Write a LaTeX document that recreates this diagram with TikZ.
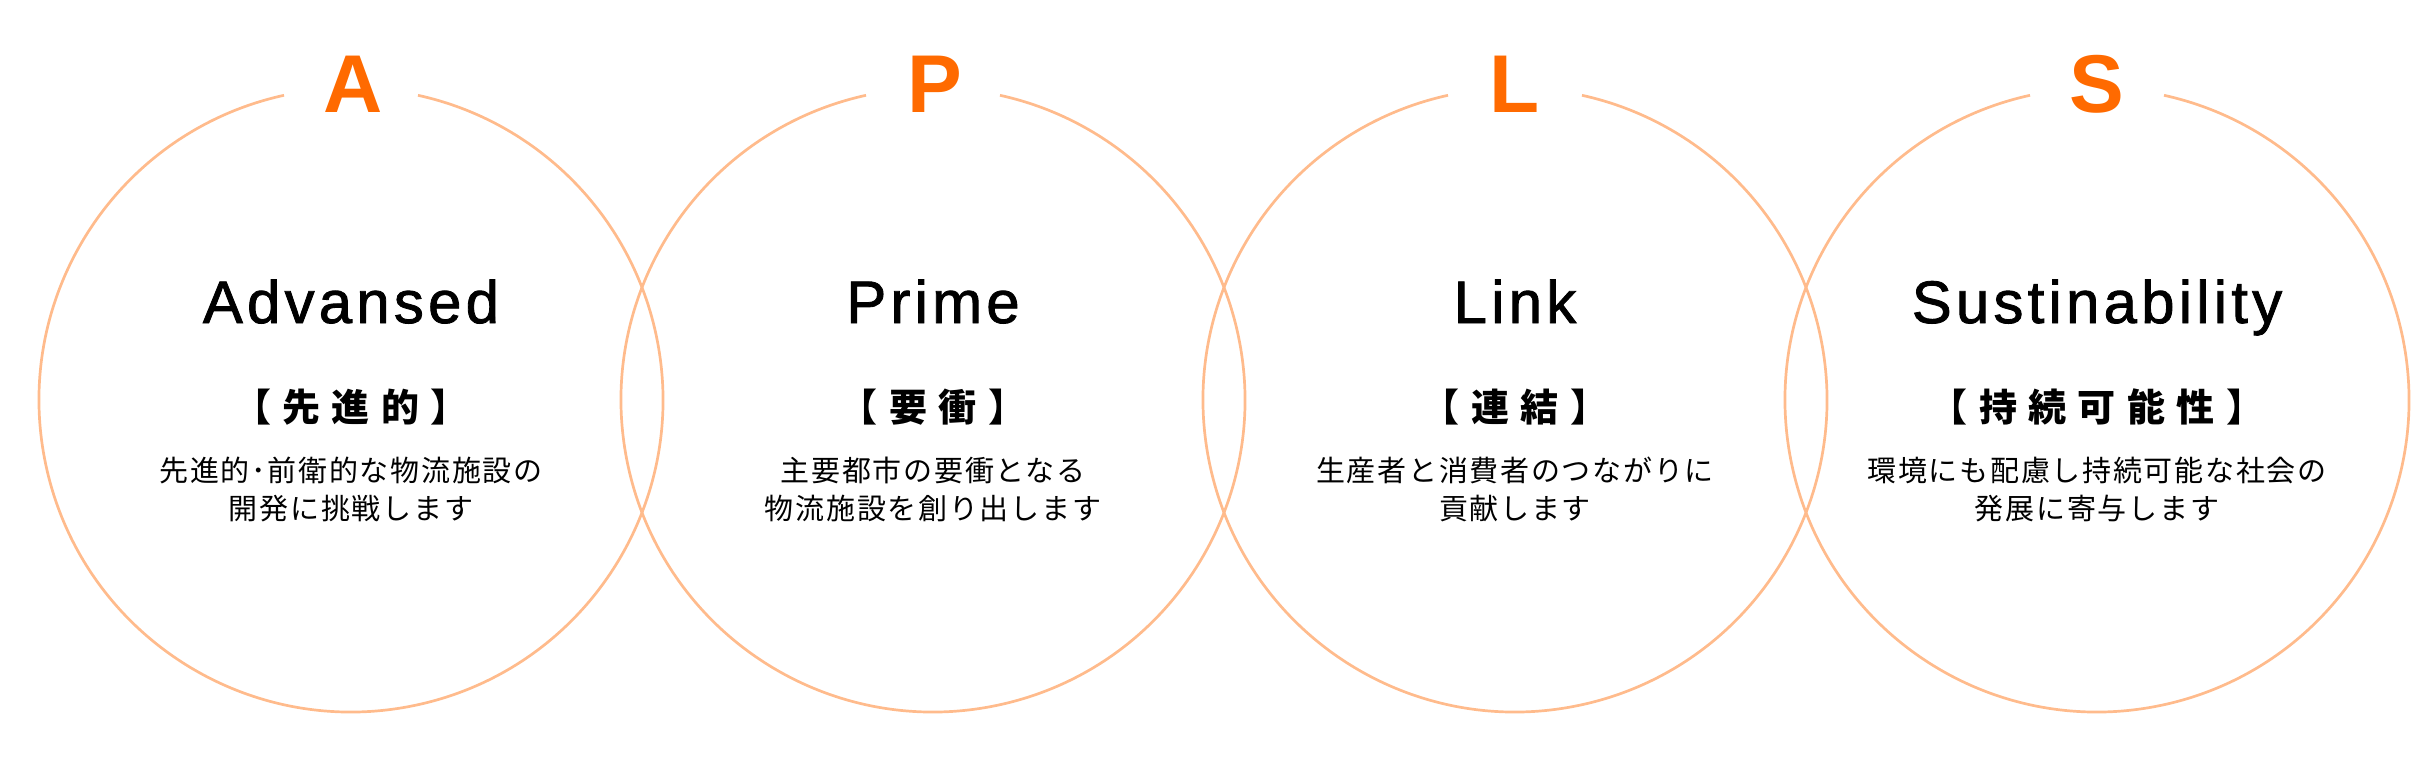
\documentclass[tikz,border=0pt]{standalone}
\usepackage{fontspec}
\setmainfont{Liberation Sans}
\newfontfamily\titlefont[LetterSpace=7,FakeBold=1.4]{Liberation Sans}
\newfontfamily\jpkw[LetterSpace=30]{Noto Sans CJK JP}
\newfontfamily\jpd[LetterSpace=6]{Noto Sans CJK JP}
\definecolor{ringc}{RGB}{255,187,140}
\definecolor{initc}{RGB}{255,106,0}
\tikzset{
  ring/.style={draw=ringc, line width=2.7pt},
  initial/.style={text=initc, font=\fontsize{82}{82}\selectfont\bfseries, anchor=base, inner sep=0pt},
  title/.style={font=\titlefont\fontsize{60}{60}\selectfont, anchor=base, inner sep=0pt},
  kw/.style={font=\jpkw\bfseries\fontsize{38}{38}\selectfont, anchor=base, inner sep=0pt},
  desc/.style={font=\jpd\fontsize{29}{29}\selectfont, anchor=base, inner sep=0pt},
}
\begin{document}
\begin{tikzpicture}[x=1pt,y=-1pt]
\useasboundingbox (0,0) rectangle (2434,760);
\foreach \cx/\nm in {351/a,933/p,1515/l,2097/s}{
  \coordinate (c\nm) at (\cx,400);
  \draw[ring] (c\nm) ++(102.4:312pt) arc[start angle=102.4, end angle=437.6, radius=312pt];
}
% initials
\node[initial] (ia) at (353,112) {A};
\node[initial] (ip) at (935,112) {P};
\node[initial] (il) at (1515,112) {L};
\node[initial] (is) at (2097,112) {S};
% titles
\node[title] (ta) at (351,323) {Advansed};
\node[title] (tp) at (933,323) {Prime};
\node[title] (tl) at (1515,323) {Link};
\node[title] (ts) at (2097,323) {Sustinability};
% keywords
\node[kw] (ka) at (351,421) {【先進的】};
\node[kw] (kp) at (933,421) {【要衝】};
\node[kw] (kl) at (1515,421) {【連結】};
\node[kw] (ks) at (2097,421) {【持続可能性】};
% descriptions
\node[desc] (da1) at (351,481) {先進的･前衛的な物流施設の};
\node[desc] (da2) at (351,519) {開発に挑戦します};
\node[desc] (dp1) at (933,481) {主要都市の要衝となる};
\node[desc] (dp2) at (933,519) {物流施設を創り出します};
\node[desc] (dl1) at (1515,481) {生産者と消費者のつながりに};
\node[desc] (dl2) at (1515,519) {貢献します};
\node[desc] (ds1) at (2097,481) {環境にも配慮し持続可能な社会の};
\node[desc] (ds2) at (2097,519) {発展に寄与します};
\end{tikzpicture}
\end{document}
